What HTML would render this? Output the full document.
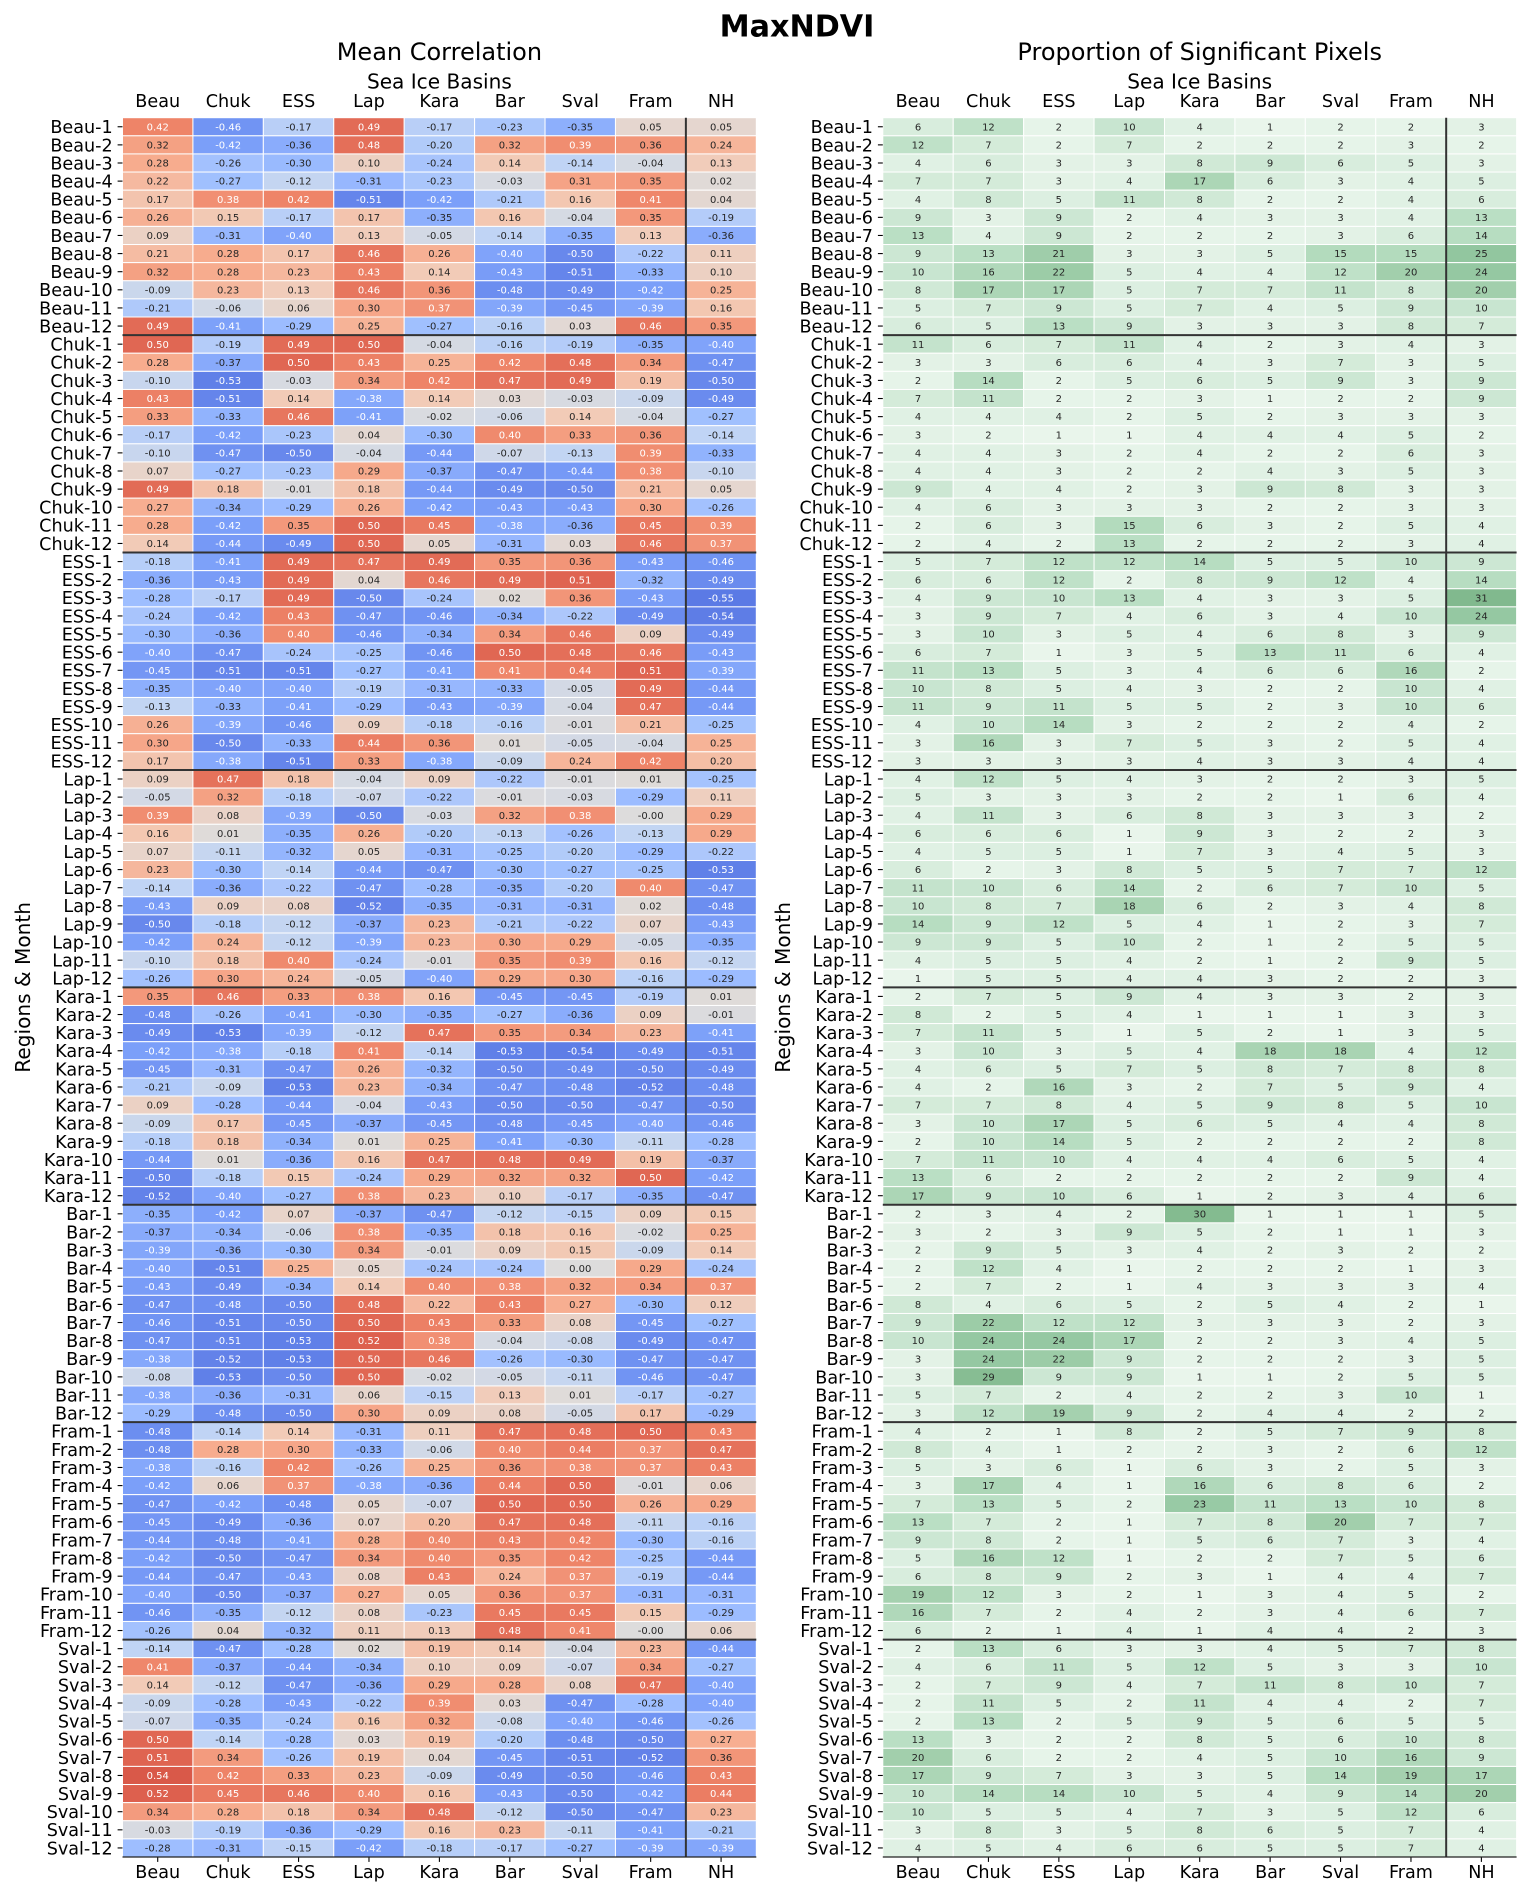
<!DOCTYPE html>
<html lang="en">
<head>
<meta charset="utf-8">
<title>MaxNDVI</title>
<style>
html,body{margin:0;padding:0;background:#fff;}
svg{display:block;font-family:"DejaVu Sans","Liberation Sans",sans-serif;}
</style>
</head>
<body>
<svg id="chart" xmlns="http://www.w3.org/2000/svg" width="1532" height="1897" viewBox="0 0 1532 1897">
<rect x="0" y="0" width="1532" height="1897" fill="#ffffff"/>
<text x="797" y="36.5" font-size="30.2" font-weight="bold" text-anchor="middle" fill="#000">MaxNDVI</text>
<g id="left"></g>
<g id="right"></g>
</svg>
<script>
const basins = ["Beau","Chuk","ESS","Lap","Kara","Bar","Sval","Fram","NH"];
const regions = ["Beau","Chuk","ESS","Lap","Kara","Bar","Fram","Sval"];

const corrBeau = [
[.42,-.46,-.17,.49,-.17,-.23,-.35,.05,.05],
[.32,-.42,-.36,.48,-.20,.32,.39,.36,.24],
[.28,-.26,-.30,.10,-.24,.14,-.14,-.04,.13],
[.22,-.27,-.12,-.31,-.23,-.03,.31,.35,.02],
[.17,.38,.42,-.51,-.42,-.21,.16,.41,.04],
[.26,.15,-.17,.17,-.35,.16,-.04,.35,-.19],
[.09,-.31,-.40,.13,-.05,-.14,-.35,.13,-.36],
[.21,.28,.17,.46,.26,-.40,-.50,-.22,.11],
[.32,.28,.23,.43,.14,-.43,-.51,-.33,.10],
[-.09,.23,.13,.46,.36,-.48,-.49,-.42,.25],
[-.21,-.06,.06,.30,.37,-.39,-.45,-.39,.16],
[.49,-.41,-.29,.25,-.27,-.16,.03,.46,.35]];
const corrChuk = [
[.50,-.19,.49,.50,-.04,-.16,-.19,-.35,-.40],
[.28,-.37,.50,.43,.25,.42,.48,.34,-.47],
[-.10,-.53,-.03,.34,.42,.47,.49,.19,-.50],
[.43,-.51,.14,-.38,.14,.03,-.03,-.09,-.49],
[.33,-.33,.46,-.41,-.02,-.06,.14,-.04,-.27],
[-.17,-.42,-.23,.04,-.30,.40,.33,.36,-.14],
[-.10,-.47,-.50,-.04,-.44,-.07,-.13,.39,-.33],
[.07,-.27,-.23,.29,-.37,-.47,-.44,.38,-.10],
[.49,.18,-.01,.18,-.44,-.49,-.50,.21,.05],
[.27,-.34,-.29,.26,-.42,-.43,-.43,.30,-.26],
[.28,-.42,.35,.50,.45,-.38,-.36,.45,.39],
[.14,-.44,-.49,.50,.05,-.31,.03,.46,.37]];
const corrESS = [
[-.18,-.41,.49,.47,.49,.35,.36,-.43,-.46],
[-.36,-.43,.49,.04,.46,.49,.51,-.32,-.49],
[-.28,-.17,.49,-.50,-.24,.02,.36,-.43,-.55],
[-.24,-.42,.43,-.47,-.46,-.34,-.22,-.49,-.54],
[-.30,-.36,.40,-.46,-.34,.34,.46,.09,-.49],
[-.40,-.47,-.24,-.25,-.46,.50,.48,.46,-.43],
[-.45,-.51,-.51,-.27,-.41,.41,.44,.51,-.39],
[-.35,-.40,-.40,-.19,-.31,-.33,-.05,.49,-.44],
[-.13,-.33,-.41,-.29,-.43,-.39,-.04,.47,-.44],
[.26,-.39,-.46,.09,-.18,-.16,-.01,.21,-.25],
[.30,-.50,-.33,.44,.36,.01,-.05,-.04,.25],
[.17,-.38,-.51,.33,-.38,-.09,.24,.42,.20]];
const corrLap = [
[.09,.47,.18,-.04,.09,-.22,-.01,.01,-.25],
[-.05,.32,-.18,-.07,-.22,-.01,-.03,-.29,.11],
[.39,.08,-.39,-.50,-.03,.32,.38,-.001,.29],
[.16,.01,-.35,.26,-.20,-.13,-.26,-.13,.29],
[.07,-.11,-.32,.05,-.31,-.25,-.20,-.29,-.22],
[.23,-.30,-.14,-.44,-.47,-.30,-.27,-.25,-.53],
[-.14,-.36,-.22,-.47,-.28,-.35,-.20,.40,-.47],
[-.43,.09,.08,-.52,-.35,-.31,-.31,.02,-.48],
[-.50,-.18,-.12,-.37,.23,-.21,-.22,.07,-.43],
[-.42,.24,-.12,-.39,.23,.30,.29,-.05,-.35],
[-.10,.18,.40,-.24,-.01,.35,.39,.16,-.12],
[-.26,.30,.24,-.05,-.40,.29,.30,-.16,-.29]];
const corrKara = [
[.35,.46,.33,.38,.16,-.45,-.45,-.19,.01],
[-.48,-.26,-.41,-.30,-.35,-.27,-.36,.09,-.01],
[-.49,-.53,-.39,-.12,.47,.35,.34,.23,-.41],
[-.42,-.38,-.18,.41,-.14,-.53,-.54,-.49,-.51],
[-.45,-.31,-.47,.26,-.32,-.50,-.49,-.50,-.49],
[-.21,-.09,-.53,.23,-.34,-.47,-.48,-.52,-.48],
[.09,-.28,-.44,-.04,-.43,-.50,-.50,-.47,-.50],
[-.09,.17,-.45,-.37,-.45,-.48,-.45,-.40,-.46],
[-.18,.18,-.34,.01,.25,-.41,-.30,-.11,-.28],
[-.44,.01,-.36,.16,.47,.48,.49,.19,-.37],
[-.50,-.18,.15,-.24,.29,.32,.32,.50,-.42],
[-.52,-.40,-.27,.38,.23,.10,-.17,-.35,-.47]];
const corrBar = [
[-.35,-.42,.07,-.37,-.47,-.12,-.15,.09,.15],
[-.37,-.34,-.06,.38,-.35,.18,.16,-.02,.25],
[-.39,-.36,-.30,.34,-.01,.09,.15,-.09,.14],
[-.40,-.51,.25,.05,-.24,-.24,.00,.29,-.24],
[-.43,-.49,-.34,.14,.40,.38,.32,.34,.37],
[-.47,-.48,-.50,.48,.22,.43,.27,-.30,.12],
[-.46,-.51,-.50,.50,.43,.33,.08,-.45,-.27],
[-.47,-.51,-.53,.52,.38,-.04,-.08,-.49,-.47],
[-.38,-.52,-.53,.50,.46,-.26,-.30,-.47,-.47],
[-.08,-.53,-.50,.50,-.02,-.05,-.11,-.46,-.47],
[-.38,-.36,-.31,.06,-.15,.13,.01,-.17,-.27],
[-.29,-.48,-.50,.30,.09,.08,-.05,.17,-.29]];
const corrFram = [
[-.48,-.14,.14,-.31,.11,.47,.48,.50,.43],
[-.48,.28,.30,-.33,-.06,.40,.44,.37,.47],
[-.38,-.16,.42,-.26,.25,.36,.38,.37,.43],
[-.42,.06,.37,-.38,-.36,.44,.50,-.01,.06],
[-.47,-.42,-.48,.05,-.07,.50,.50,.26,.29],
[-.45,-.49,-.36,.07,.20,.47,.48,-.11,-.16],
[-.44,-.48,-.41,.28,.40,.43,.42,-.30,-.16],
[-.42,-.50,-.47,.34,.40,.35,.42,-.25,-.44],
[-.44,-.47,-.43,.08,.43,.24,.37,-.19,-.44],
[-.40,-.50,-.37,.27,.05,.36,.37,-.31,-.31],
[-.46,-.35,-.12,.08,-.23,.45,.45,.15,-.29],
[-.26,.04,-.32,.11,.13,.48,.41,-.001,.06]];
const corrSval = [
[-.14,-.47,-.28,.02,.19,.14,-.04,.23,-.44],
[.41,-.37,-.44,-.34,.10,.09,-.07,.34,-.27],
[.14,-.12,-.47,-.36,.29,.28,.08,.47,-.40],
[-.09,-.28,-.43,-.22,.39,.03,-.47,-.28,-.40],
[-.07,-.35,-.24,.16,.32,-.08,-.40,-.46,-.26],
[.50,-.14,-.28,.03,.19,-.20,-.48,-.50,.27],
[.51,.34,-.26,.19,.04,-.45,-.51,-.52,.36],
[.54,.42,.33,.23,-.09,-.49,-.50,-.46,.43],
[.52,.45,.46,.40,.16,-.43,-.50,-.42,.44],
[.34,.28,.18,.34,.48,-.12,-.50,-.47,.23],
[-.03,-.19,-.36,-.29,.16,.23,-.11,-.41,-.21],
[-.28,-.31,-.15,-.42,-.18,-.17,-.27,-.39,-.39]];

const propBeau = [
[6,12,2,10,4,1,2,2,3],[12,7,2,7,2,2,2,3,2],[4,6,3,3,8,9,6,5,3],[7,7,3,4,17,6,3,4,5],
[4,8,5,11,8,2,2,4,6],[9,3,9,2,4,3,3,4,13],[13,4,9,2,2,2,3,6,14],[9,13,21,3,3,5,15,15,25],
[10,16,22,5,4,4,12,20,24],[8,17,17,5,7,7,11,8,20],[5,7,9,5,7,4,5,9,10],[6,5,13,9,3,3,3,8,7]];
const propChuk = [
[11,6,7,11,4,2,3,4,3],[3,3,6,6,4,3,7,3,5],[2,14,2,5,6,5,9,3,9],[7,11,2,2,3,1,2,2,9],
[4,4,4,2,5,2,3,3,3],[3,2,1,1,4,4,4,5,2],[4,4,3,2,4,2,2,6,3],[4,4,3,2,2,4,3,5,3],
[9,4,4,2,3,9,8,3,3],[4,6,3,3,3,2,2,3,3],[2,6,3,15,6,3,2,5,4],[2,4,2,13,2,2,2,3,4]];
const propESS = [
[5,7,12,12,14,5,5,10,9],[6,6,12,2,8,9,12,4,14],[4,9,10,13,4,3,3,5,31],[3,9,7,4,6,3,4,10,24],
[3,10,3,5,4,6,8,3,9],[6,7,1,3,5,13,11,6,4],[11,13,5,3,4,6,6,16,2],[10,8,5,4,3,2,2,10,4],
[11,9,11,5,5,2,3,10,6],[4,10,14,3,2,2,2,4,2],[3,16,3,7,5,3,2,5,4],[3,3,3,3,4,3,3,4,4]];
const propLap = [
[4,12,5,4,3,2,2,3,5],[5,3,3,3,2,2,1,6,4],[4,11,3,6,8,3,3,3,2],[6,6,6,1,9,3,2,2,3],
[4,5,5,1,7,3,4,5,3],[6,2,3,8,5,5,7,7,12],[11,10,6,14,2,6,7,10,5],[10,8,7,18,6,2,3,4,8],
[14,9,12,5,4,1,2,3,7],[9,9,5,10,2,1,2,5,5],[4,5,5,4,2,1,2,9,5],[1,5,5,4,4,3,2,2,3]];
const propKara = [
[2,7,5,9,4,3,3,2,3],[8,2,5,4,1,1,1,3,3],[7,11,5,1,5,2,1,3,5],[3,10,3,5,4,18,18,4,12],
[4,6,5,7,5,8,7,8,8],[4,2,16,3,2,7,5,9,4],[7,7,8,4,5,9,8,5,10],[3,10,17,5,6,5,4,4,8],
[2,10,14,5,2,2,2,2,8],[7,11,10,4,4,4,6,5,4],[13,6,2,2,2,2,2,9,4],[17,9,10,6,1,2,3,4,6]];
const propBar = [
[2,3,4,2,30,1,1,1,5],[3,2,3,9,5,2,1,1,3],[2,9,5,3,4,2,3,2,2],[2,12,4,1,2,2,2,1,3],
[2,7,2,1,4,3,3,3,4],[8,4,6,5,2,5,4,2,1],[9,22,12,12,3,3,3,2,3],[10,24,24,17,2,2,3,4,5],
[3,24,22,9,2,2,2,3,5],[3,29,9,9,1,1,2,5,5],[5,7,2,4,2,2,3,10,1],[3,12,19,9,2,4,4,2,2]];
const propFram = [
[4,2,1,8,2,5,7,9,8],[8,4,1,2,2,3,2,6,12],[5,3,6,1,6,3,2,5,3],[3,17,4,1,16,6,8,6,2],
[7,13,5,2,23,11,13,10,8],[13,7,2,1,7,8,20,7,7],[9,8,2,1,5,6,7,3,4],[5,16,12,1,2,2,7,5,6],
[6,8,9,2,3,1,4,4,7],[19,12,3,2,1,3,4,5,2],[16,7,2,4,2,3,4,6,7],[6,2,1,4,1,4,4,2,3]];
const propSval = [
[2,13,6,3,3,4,5,7,8],[4,6,11,5,12,5,3,3,10],[2,7,9,4,7,11,8,10,7],[2,11,5,2,11,4,4,2,7],
[2,13,2,5,9,5,6,5,5],[13,3,2,2,8,5,6,10,8],[20,6,2,2,4,5,10,16,9],[17,9,7,3,3,5,14,19,17],
[10,14,14,10,5,4,9,14,20],[10,5,5,4,7,3,5,12,6],[3,8,3,5,8,6,5,7,4],[4,5,4,6,6,5,5,7,4]];

const corrRows = [].concat(corrBeau,corrChuk,corrESS,corrLap,corrKara,corrBar,corrFram,corrSval);
const propRows = [].concat(propBeau,propChuk,propESS,propLap,propKara,propBar,propFram,propSval);

const NS = "http://www.w3.org/2000/svg";
const MONTHS_PER_REGION = 12;
const PLOT_TOP = 117.7, PLOT_BOTTOM = 1857;
const PLOT_W = 633.8;
const TICK_FONT = 17.6, AXIS_FONT = 20.1, TITLE_FONT = 24;

const coolwarmStops = ["#3b4cc0","#5977e3","#7b9ff9","#9ebeff","#c0d4f5","#dddcdc","#f2cbb7","#f7ac8e","#ee8468","#d65244","#b40426"];
const greenStops = [[0,"#edf7ef"],[1,"#e9f5eb"],[3,"#e3f2e6"],[5,"#dcefe1"],[7,"#d4ebd9"],[9,"#cce7d3"],[11,"#c4e3cc"],[13,"#badfc4"],[17,"#acd6b6"],[20,"#a2cfac"],[24,"#95c8a2"],[30,"#84bb90"],[31,"#81b98e"]];

function hex(c){return [parseInt(c.slice(1,3),16),parseInt(c.slice(3,5),16),parseInt(c.slice(5,7),16)];}
function mix(a,b,f){const p=hex(a),q=hex(b);return p.map((v,i)=>Math.round(v+(q[i]-v)*f));}
function coolwarm(v){
  const t=Math.max(0,Math.min(1,0.5+v/1.4))*10;
  const i=Math.min(9,Math.floor(t));
  return mix(coolwarmStops[i],coolwarmStops[i+1],t-i);
}
function greens(v){
  for(let i=0;i<greenStops.length-1;i++){
    if(v<=greenStops[i+1][0]){
      return mix(greenStops[i][1],greenStops[i+1][1],(v-greenStops[i][0])/(greenStops[i+1][0]-greenStops[i][0]));
    }
  }
  return hex(greenStops[greenStops.length-1][1]);
}
function luminance(c){
  const l=c.map(x=>{x/=255;return x<=0.03928?x/12.92:Math.pow((x+0.055)/1.055,2.4);});
  return 0.2126*l[0]+0.7152*l[1]+0.0722*l[2];
}
function node(parent,tag,attrs,txt){
  const el=document.createElementNS(NS,tag);
  for(const k in attrs){el.setAttribute(k,attrs[k]);}
  if(txt!==undefined){el.textContent=txt;}
  parent.appendChild(el);
  return el;
}

function drawPanel(g,cfg){
  const rows=cfg.rows;
  const nRows=rows.length,nCols=basins.length;
  const xScale=i=>cfg.x0+i*PLOT_W/nCols;
  const yScale=j=>PLOT_TOP+j*(PLOT_BOTTOM-PLOT_TOP)/nRows;
  const cx=(cfg.x0*2+PLOT_W)/2;

  let el=node(g,"text",{x:cx,y:60,"font-size":TITLE_FONT,"text-anchor":"middle",fill:"#000"},cfg.title);
  
  
  el=node(g,"text",{x:cx,y:88.5,"font-size":AXIS_FONT,"text-anchor":"middle",fill:"#000"},"Sea Ice Basins");
  
  
  el=node(g,"text",{transform:"translate("+cfg.ylabelX+" "+(PLOT_TOP+PLOT_BOTTOM)/2+") rotate(-90)","font-size":AXIS_FONT,"text-anchor":"middle",fill:"#000"},"Regions & Month");
  
  

  rows.forEach((row,j)=>{
    row.forEach((v,i)=>{
      const c=cfg.color(v);
      const rect=node(g,"rect",{x:xScale(i),y:yScale(j),width:xScale(i+1)-xScale(i),height:yScale(j+1)-yScale(j),fill:"rgb("+c.join(",")+")",stroke:"#fff","stroke-width":1});
      
      
    });
  });
  rows.forEach((row,j)=>{
    row.forEach((v,i)=>{
      const c=cfg.color(v);
      const t=node(g,"text",{x:(xScale(i)+xScale(i+1))/2,y:(yScale(j)+yScale(j+1))/2+3.6,"font-size":10,"text-anchor":"middle",fill:luminance(c)<0.408?"#ffffff":"#262626"},cfg.format(v));
      
      
    });
  });

  regions.forEach((r,k)=>{
    for(let m=0;m<MONTHS_PER_REGION;m++){
      const j=k*MONTHS_PER_REGION+m;
      const yc=(yScale(j)+yScale(j+1))/2;
      const tick=node(g,"line",{x1:cfg.x0-4.9,x2:cfg.x0,y1:yc,y2:yc,stroke:"#000","stroke-width":1.1});
      
      
      const lab=node(g,"text",{x:cfg.x0-9.8,y:yc+6.4,"font-size":TICK_FONT,"text-anchor":"end",fill:"#000"},r+"-"+(m+1));
      
      
    }
  });

  basins.forEach((b,i)=>{
    const xc=(xScale(i)+xScale(i+1))/2;
    const top=node(g,"text",{x:xc,y:107,"font-size":TICK_FONT,"text-anchor":"middle",fill:"#000"},b);
    
    
    const tick=node(g,"line",{x1:xc,x2:xc,y1:PLOT_BOTTOM,y2:PLOT_BOTTOM+4.9,stroke:"#000","stroke-width":1.1});
    
    
    const bot=node(g,"text",{x:xc,y:1878,"font-size":TICK_FONT,"text-anchor":"middle",fill:"#000"},b);
    
    
  });

  for(let k=1;k<regions.length;k++){
    const y=yScale(k*MONTHS_PER_REGION);
    const sep=node(g,"line",{x1:cfg.x0,x2:cfg.x0+PLOT_W,y1:y,y2:y,stroke:"#333","stroke-width":2});
    
    
  }
  const vx=xScale(nCols-1);
  const vsep=node(g,"line",{x1:vx,x2:vx,y1:PLOT_TOP,y2:PLOT_BOTTOM,stroke:"#333","stroke-width":2});
  
  
  const axis=node(g,"line",{x1:cfg.x0,x2:cfg.x0+PLOT_W,y1:PLOT_BOTTOM,y2:PLOT_BOTTOM,stroke:"#222","stroke-width":1.2});
  
  
}

drawPanel(document.getElementById("left"),{x0:122.5,title:"Mean Correlation",ylabelX:30,rows:corrRows,color:coolwarm,format:v=>v.toFixed(2)});
drawPanel(document.getElementById("right"),{x0:882.8,title:"Proportion of Significant Pixels",ylabelX:790,rows:propRows,color:greens,format:v=>String(v)});
</script>
</body>
</html>
